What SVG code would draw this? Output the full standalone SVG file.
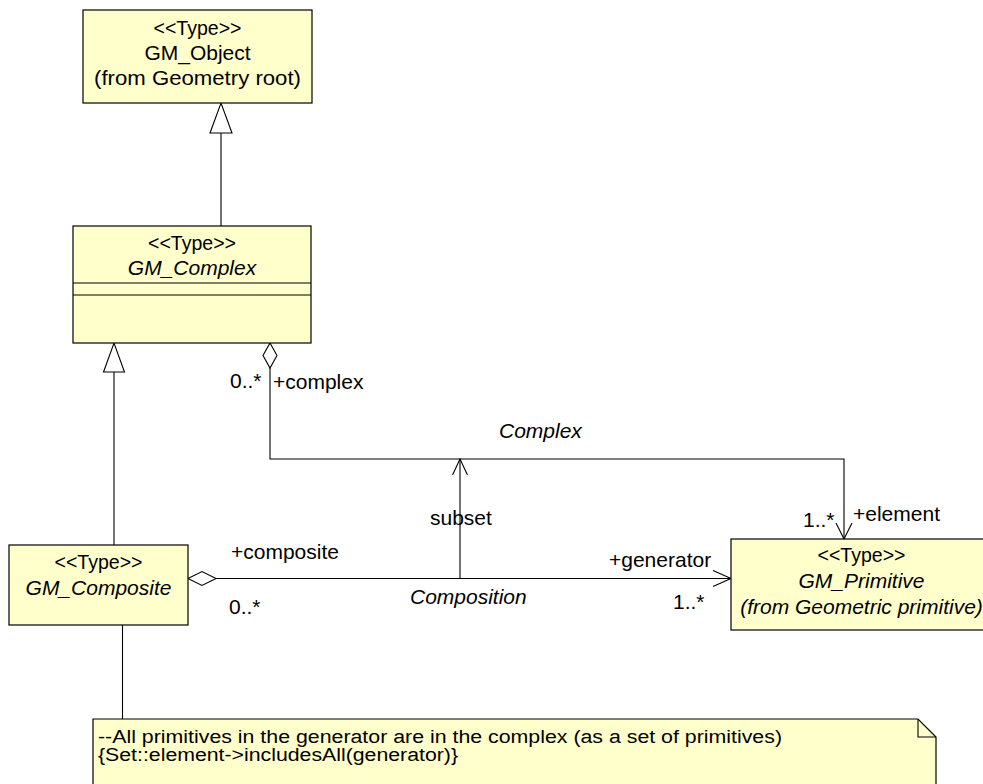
<svg xmlns="http://www.w3.org/2000/svg" width="983" height="784" viewBox="0 0 983 784">
<style>
.box{fill:#ffffcc;stroke:#000;stroke-width:1.2}
.ln{fill:none;stroke:#000;stroke-width:1.1}
.hd{fill:#fff;stroke:#000;stroke-width:1.1}
.op{fill:none;stroke:#000;stroke-width:1.1}
text{font-family:"Liberation Sans",Arial,sans-serif;font-size:21px;fill:#000}
.c{text-anchor:middle}
.i{font-style:italic}
.n{font-size:18px}
</style>
<rect width="983" height="784" fill="#fff"/>
<g id="connectors">
  <line class="ln" x1="221" y1="226" x2="221" y2="133"/>
  <polygon class="hd" points="210,133 221,103 232,133"/>
  <line class="ln" x1="114" y1="545" x2="114" y2="372"/>
  <polygon class="hd" points="103.5,372 114,343 124.5,372"/>
  <polyline class="ln" points="270,368 270,459 844,459 844,539"/>
  <polygon class="hd" points="270,343 277,355.5 270,368 263,355.5"/>
  <polyline class="op" points="836,523 844,539 852,523"/>
  <line class="ln" x1="216" y1="578.5" x2="731" y2="578.5"/>
  <polygon class="hd" points="188,578.5 202,571.5 216,578.5 202,585.5"/>
  <polyline class="op" points="713,570.5 731,578.5 713,586.5"/>
  <line class="ln" x1="460" y1="578.5" x2="460" y2="459"/>
  <polyline class="op" points="452.5,475 460,459 467.5,475"/>
  <line class="ln" x1="122.5" y1="625" x2="122.5" y2="719"/>
  <text x="230" y="388">0..*</text>
  <text x="273" y="389">+complex</text>
  <text x="499" y="438" class="i">Complex</text>
  <text x="430" y="525">subset</text>
  <text x="231" y="559">+composite</text>
  <text x="229" y="614">0..*</text>
  <text x="410" y="604" class="i">Composition</text>
  <text x="609" y="567">+generator</text>
  <text x="673" y="609">1..*</text>
  <text x="803" y="527">1..*</text>
  <text x="853" y="521">+element</text>
</g>
<g id="GM_Object">
  <rect class="box" x="83" y="10" width="229" height="93"/>
  <text class="c" x="197.5" y="35" textLength="88" lengthAdjust="spacingAndGlyphs">&lt;&lt;Type&gt;&gt;</text>
  <text class="c" x="197.5" y="60">GM_Object</text>
  <text class="c" x="197.5" y="85" textLength="207" lengthAdjust="spacingAndGlyphs">(from Geometry root)</text>
</g>
<g id="GM_Complex">
  <rect class="box" x="73" y="226" width="238" height="117"/>
  <line class="ln" x1="73" y1="283" x2="311" y2="283"/>
  <line class="ln" x1="73" y1="295" x2="311" y2="295"/>
  <text class="c" x="192" y="250" textLength="88" lengthAdjust="spacingAndGlyphs">&lt;&lt;Type&gt;&gt;</text>
  <text class="c i" x="192" y="275">GM_Complex</text>
</g>
<g id="GM_Composite">
  <rect class="box" x="9" y="545" width="179" height="80"/>
  <text class="c" x="98.5" y="569" textLength="88" lengthAdjust="spacingAndGlyphs">&lt;&lt;Type&gt;&gt;</text>
  <text class="c i" x="98.5" y="595">GM_Composite</text>
</g>
<g id="GM_Primitive">
  <rect class="box" x="731" y="539" width="261" height="91"/>
  <text class="c" x="861.5" y="562" textLength="88" lengthAdjust="spacingAndGlyphs">&lt;&lt;Type&gt;&gt;</text>
  <text class="c i" x="861.5" y="588">GM_Primitive</text>
  <text class="c i" x="861.5" y="614">(from Geometric primitive)</text>
</g>
<g id="note">
  <polygon class="box" points="93,719 918,719 936,737 936,790 93,790"/>
  <polyline class="ln" points="918,719 918,737 936,737"/>
  <text class="n" x="98" y="742.5" textLength="684" lengthAdjust="spacingAndGlyphs">--All primitives in the generator are in the complex (as a set of primitives)</text>
  <text class="n" x="98" y="761" textLength="360" lengthAdjust="spacingAndGlyphs">{Set::element-&gt;includesAll(generator)}</text>
</g>
</svg>
